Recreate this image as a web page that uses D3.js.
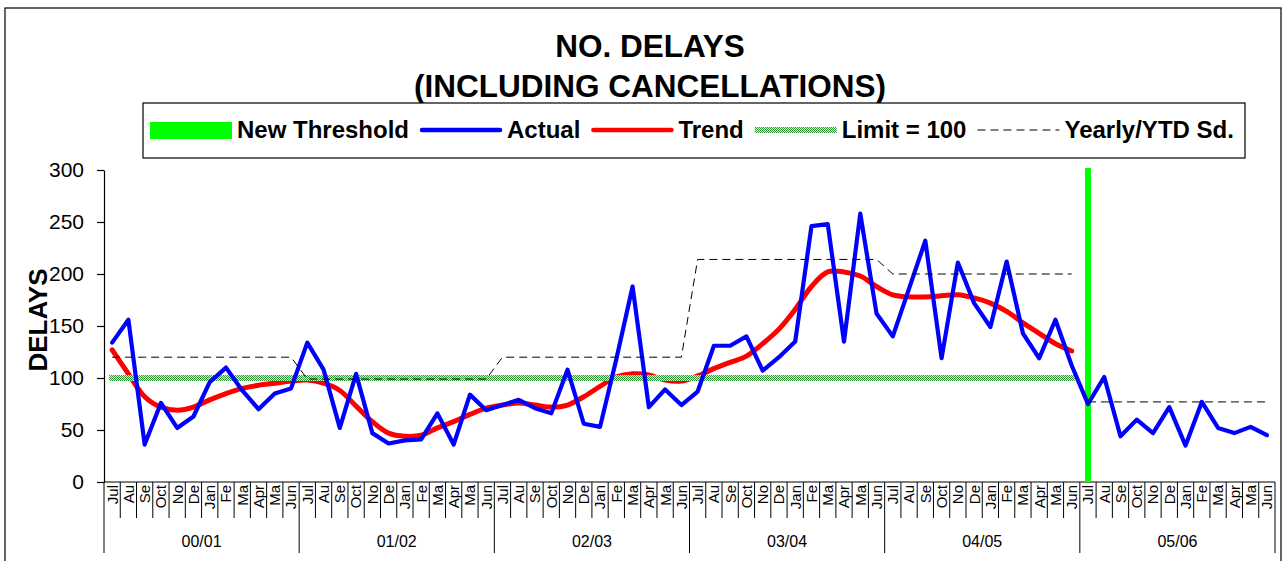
<!DOCTYPE html>
<html>
<head>
<meta charset="utf-8">
<script src="https://cdn.jsdelivr.net/npm/d3@7"></script>
<style>
  body { margin: 0; background: #fff; }
  text { font-family: Arial, "Liberation Sans", sans-serif; fill: #000; }
</style>
</head>
<body>
<div id="chart-container"></div>
<script>
// Chart data
const monthLabels = ["Jul", "Au", "Se", "Oct", "No", "De", "Jan", "Fe", "Ma", "Apr", "Ma", "Jun"];
const yearLabels = ["00/01", "01/02", "02/03", "03/04", "04/05", "05/06"];

const actual = [
  134, 156, 36, 76, 52, 63, 96, 110, 88, 70, 85, 90,
  134, 108, 52, 104, 47, 37, 40, 41, 66, 36, 84, 69,
  74, 79, 71, 66, 108, 56, 53, 118, 188, 72, 89, 74,
  87, 131, 131, 140, 107, 120, 135, 246, 248, 135, 258, 162,
  140, 186, 232, 119, 211, 172, 149, 212, 143, 119, 156, 112,
  75, 101, 44, 60, 47, 72, 35, 77, 52, 47, 53, 45
];

// trend only exists for the first five years
const trend = [
  127, 104, 82, 72, 69, 72, 79, 85, 90, 93, 95, 97,
  98, 95, 88, 73, 58, 47, 44, 45, 52, 58, 65, 71,
  74, 76, 74, 72, 74, 82, 92, 101, 104, 103, 98, 97,
  102, 109, 115, 121, 133, 147, 166, 188, 202, 202, 198, 188,
  180, 178, 178, 179, 180, 177, 172, 164, 153, 143, 133, 126
];

const yearlySd = [120, 99, 120, 214, 200, 77];
const limitValue = 100;
const limitMonths = 60;        // limit drawn for first 5 years
const thresholdMonth = 60;     // new threshold starts Jul 05
const yTicks = [0, 50, 100, 150, 200, 250, 300];

const width = 1283;
const height = 561;
const plot = { left: 104, right: 1275, top: 170, bottom: 482 };

const nMonths = yearLabels.length * monthLabels.length;

// Scales
const x = d3.scaleBand()
  .domain(d3.range(nMonths))
  .range([plot.left, plot.right]);
const cx = i => x(i) + x.bandwidth() / 2;

const y = d3.scaleLinear()
  .domain([0, 300])
  .range([plot.bottom, plot.top]);

const svg = d3.select("#chart-container")
  .append("svg")
  .attr("width", width)
  .attr("height", height);

// dotted fill for the limit line
const defs = svg.append("defs");
const pat = defs.append("pattern")
  .attr("id", "hatch")
  .attr("patternUnits", "userSpaceOnUse")
  .attr("width", 2)
  .attr("height", 2);
pat.append("rect").attr("width", 2).attr("height", 2).attr("fill", "#dff0df");
pat.append("rect").attr("width", 1).attr("height", 1).attr("fill", "#2f9a35");
pat.append("rect").attr("x", 1).attr("y", 1).attr("width", 1).attr("height", 1).attr("fill", "#2f9a35");

// outer chart border
svg.append("rect")
  .attr("x", 5).attr("y", 8)
  .attr("width", 1276).attr("height", 600)
  .attr("fill", "none")
  .attr("stroke", "#000")
  .attr("stroke-width", 1.2);

// Title
svg.append("text")
  .attr("x", 650).attr("y", 57)
  .attr("text-anchor", "middle")
  .style("font-size", "31.5px").style("font-weight", "bold")
  .text("NO. DELAYS");
svg.append("text")
  .attr("x", 650).attr("y", 97)
  .attr("text-anchor", "middle")
  .style("font-size", "31.5px").style("font-weight", "bold")
  .text("(INCLUDING CANCELLATIONS)");

// Y axis
svg.append("g")
  .attr("transform", `translate(${plot.left},0)`)
  .style("font-size", "21px")
  .call(d3.axisLeft(y).tickValues(yTicks).tickSize(7).tickPadding(13).tickSizeOuter(0))
  .call(g => g.selectAll("text").style("font-family", "Arial, 'Liberation Sans', sans-serif").attr("fill", "#000"))
  .call(g => g.selectAll("line, path").attr("stroke", "#000").attr("stroke-width", 1.2));

svg.append("text")
  .attr("transform", "translate(47,320) rotate(-90)")
  .attr("text-anchor", "middle")
  .style("font-size", "26px").style("font-weight", "bold")
  .text("DELAYS");

// X axis: baseline, month separators, year separators
const xAxis = svg.append("g");
xAxis.append("line")
  .attr("x1", plot.left).attr("x2", plot.right)
  .attr("y1", plot.bottom).attr("y2", plot.bottom)
  .attr("stroke", "#000").attr("stroke-width", 1.2);

const bounds = d3.range(nMonths + 1);
xAxis.selectAll(".sep")
  .data(bounds)
  .join("line")
  .attr("class", "sep")
  .attr("x1", i => plot.left + i * x.step())
  .attr("x2", i => plot.left + i * x.step())
  .attr("y1", plot.bottom)
  .attr("y2", i => i % 12 === 0 ? 553 : 518)
  .attr("stroke", "#000")
  .attr("stroke-width", 1);

xAxis.selectAll(".mlabel")
  .data(d3.range(nMonths))
  .join("text")
  .attr("class", "mlabel")
  .attr("transform", i => `translate(${cx(i)},485) rotate(-90)`)
  .attr("dy", "0.36em")
  .attr("text-anchor", "end")
  .style("font-size", "15px")
  .text(i => monthLabels[i % 12]);

xAxis.selectAll(".ylabel")
  .data(yearLabels)
  .join("text")
  .attr("class", "ylabel")
  .attr("x", (d, i) => plot.left + (i * 12 + 6) * x.step())
  .attr("y", 547)
  .attr("text-anchor", "middle")
  .style("font-size", "16px")
  .text(d => d);

// New threshold (vertical green bar)
svg.append("line")
  .attr("x1", cx(thresholdMonth)).attr("x2", cx(thresholdMonth))
  .attr("y1", y(0)).attr("y2", y(300) - 2)
  .attr("stroke", "#00ff00")
  .attr("stroke-width", 6);

// Trend
const line = d3.line()
  .x(d => cx(d.i))
  .y(d => y(d.v));

svg.append("path")
  .datum(trend.map((v, i) => ({ i, v })))
  .attr("fill", "none")
  .attr("stroke", "#ff0000")
  .attr("stroke-width", 5)
  .attr("stroke-linejoin", "round")
  .attr("stroke-linecap", "round")
  .attr("d", line.curve(d3.curveCatmullRom.alpha(0.5)));

// Limit = 100
svg.append("rect")
  .attr("x", cx(0) - 3)
  .attr("width", cx(limitMonths - 1) - cx(0) + 6)
  .attr("y", y(limitValue) - 3)
  .attr("height", 6)
  .attr("fill", "url(#hatch)");

// Actual
const straight = d3.line()
  .x(d => cx(d.i))
  .y(d => y(d.v));

svg.append("path")
  .datum(actual.map((v, i) => ({ i, v })))
  .attr("fill", "none")
  .attr("stroke", "#0000ff")
  .attr("stroke-width", 4.2)
  .attr("stroke-linejoin", "round")
  .attr("stroke-linecap", "round")
  .attr("d", straight);

// Yearly / YTD standard: first five years joined, last year separate
const sd = d3.range(nMonths).map(i => ({ i, v: yearlySd[Math.floor(i / 12)] }));
[sd.slice(0, 60), sd.slice(60)].forEach(seg => {
  svg.append("path")
    .datum(seg)
    .attr("fill", "none")
    .attr("stroke", "#000")
    .attr("stroke-width", 1)
    .attr("stroke-dasharray", "8,5")
    .attr("d", straight);
});

// Legend
const lg = svg.append("g");
lg.append("rect")
  .attr("x", 143).attr("y", 103)
  .attr("width", 1102).attr("height", 55)
  .attr("fill", "#fff")
  .attr("stroke", "#000")
  .attr("stroke-width", 1.2);

const legendItems = [
  { name: "New Threshold", type: "bar" },
  { name: "Actual", type: "blue" },
  { name: "Trend", type: "red" },
  { name: "Limit = 100", type: "hatch" },
  { name: "Yearly/YTD Sd.", type: "dash" }
];

let lx = 150;
const ly = 130;
legendItems.forEach(item => {
  const sw = 82;
  if (item.type === "bar") {
    lg.append("rect").attr("x", lx).attr("y", ly - 8).attr("width", sw).attr("height", 17).attr("fill", "#00ff00");
  } else if (item.type === "blue" || item.type === "red") {
    lg.append("line").attr("x1", lx + 2).attr("x2", lx + sw - 2).attr("y1", ly).attr("y2", ly)
      .attr("stroke", item.type === "blue" ? "#0000ff" : "#ff0000")
      .attr("stroke-width", 4.5).attr("stroke-linecap", "round");
  } else if (item.type === "hatch") {
    lg.append("rect").attr("x", lx).attr("y", ly - 3).attr("width", sw).attr("height", 6).attr("fill", "url(#hatch)");
  } else {
    lg.append("line").attr("x1", lx).attr("x2", lx + sw).attr("y1", ly).attr("y2", ly)
      .attr("stroke", "#000").attr("stroke-width", 1).attr("stroke-dasharray", "8,5");
  }
  const t = lg.append("text")
    .attr("x", lx + sw + 5)
    .attr("y", ly + 8)
    .style("font-size", "24px").style("font-weight", "bold")
    .text(item.name);
  lx += sw + 5 + t.node().getComputedTextLength() + 11;
});
</script>
</body>
</html>
